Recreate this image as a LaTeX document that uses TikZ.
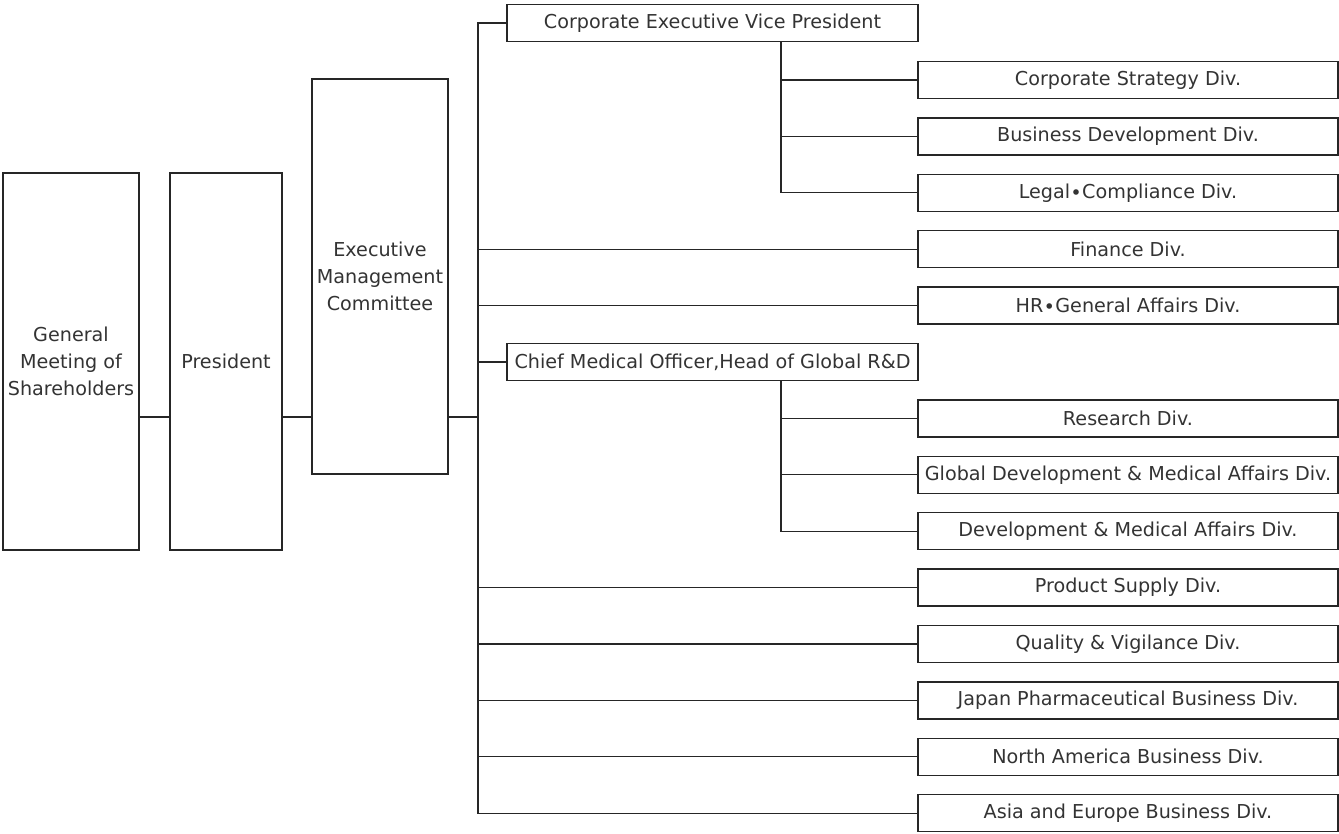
\documentclass[tikz,border=0pt]{standalone}
\usepackage{fontspec}
\setmainfont{DejaVu Sans}
\usetikzlibrary{positioning,calc}

\begin{document}
\begin{tikzpicture}[x=0.6pt,y=-0.6pt,
    box/.style={draw=black!85,line width=0.8pt,inner sep=0pt,text=black!80,
      font=\fontsize{11.5}{16.2}\selectfont,align=center},
    tallbox/.style={box,minimum height=226.2pt},
    headbox/.style={box,minimum width=246.6pt,minimum height=22.2pt},
    divbox/.style={box,minimum width=252pt,minimum height=22.2pt},
    link/.style={draw=black!85,line width=0.8pt}]
  \useasboundingbox (0,0) rectangle (1339,833);

  % left column
  \node[tallbox,minimum width=81.6pt] (gm) at (71,361.5) {General\\Meeting of\\Shareholders};
  \node[tallbox,minimum width=67.2pt] (pres) at (226,361.5) {President};
  \node[box,minimum width=81.6pt,minimum height=237pt] (emc) at (380,276.5) {Executive\\Management\\Committee};

  % officers
  \node[headbox] (cevp) at (712.5,23) {Corporate Executive Vice President};
  \node[headbox] (cmo) at (712.5,362) {Chief Medical Officer,Head of Global R\&D};

  % divisions
  \foreach \name/\row/\label in {strat/0/Corporate Strategy Div.,
      busdev/1/Business Development Div.,
      legal/2/Legal{\symbol{"2219}}Compliance Div.,
      fin/3/Finance Div.,
      hr/4/HR{\symbol{"2219}}General Affairs Div.,
      res/6/Research Div.,
      gdma/7/Global Development \& Medical Affairs Div.,
      dma/8/Development \& Medical Affairs Div.,
      prod/9/Product Supply Div.,
      qual/10/Quality \& Vigilance Div.,
      jpn/11/Japan Pharmaceutical Business Div.,
      na/12/North America Business Div.,
      asia/13/Asia and Europe Business Div.}
    \node[divbox] (\name) at (1128,80+56.4*\row) {\label};

  \coordinate (jn) at (478,417);
  \coordinate (tap) at (781,0);

  \draw[link] (gm.east |- jn) -- (pres.west |- jn);
  \draw[link] (pres.east |- jn) -- (emc.west |- jn);
  \draw[link] (emc.east |- jn) -- (jn);

  % main bus
  \draw[link] (cevp.west) -| (asia.west -| jn) -- (asia.west);
  \foreach \n in {fin,hr,cmo,prod,qual,jpn,na}
    \draw[link] (\n.west -| jn) -- (\n.west);

  % sub buses
  \draw[link] (cevp.south -| tap) |- (legal.west);
  \draw[link] (strat.west -| tap) -- (strat.west);
  \draw[link] (busdev.west -| tap) -- (busdev.west);
  \draw[link] (cmo.south -| tap) |- (dma.west);
  \draw[link] (res.west -| tap) -- (res.west);
  \draw[link] (gdma.west -| tap) -- (gdma.west);
\end{tikzpicture}
\end{document}
